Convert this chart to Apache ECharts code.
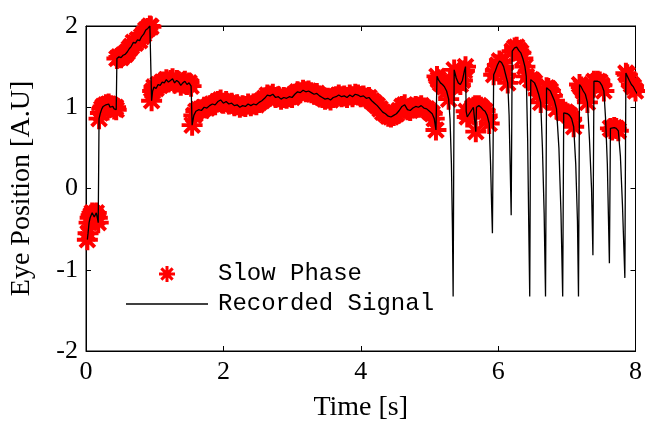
<!DOCTYPE html>
<html>
<head>
<meta charset="utf-8">
<script src="https://cdn.jsdelivr.net/npm/echarts@6/dist/echarts.min.js"></script>
<style>html,body{margin:0;padding:0;background:#fff}#c{width:645px;height:427px}</style>
</head>
<body>
<div id="c"></div>
<script>
// Recorded eye position signal: [time (s), position (A.U)]
const recordedSignal = [
  [0.02,-0.63],[0.03,-0.55],[0.045,-0.42],[0.06,-0.36],[0.075,-0.33],[0.09,-0.30],[0.105,-0.31],[0.12,-0.35],[0.135,-0.33],[0.15,-0.30],[0.165,-0.36],[0.178,-0.42],
  [0.19,0.86],[0.21,0.93],[0.23,0.98],[0.25,1.01],[0.27,1.00],[0.29,1.03],[0.31,1.02],[0.33,1.04],[0.35,1.00],[0.37,1.02],[0.39,1.01],[0.41,0.98],[0.43,1.00],[0.44,0.97],
  [0.45,1.60],[0.48,1.62],[0.51,1.61],[0.54,1.64],[0.57,1.65],[0.60,1.68],[0.63,1.72],[0.66,1.75],[0.69,1.80],[0.72,1.79],[0.75,1.83],[0.78,1.82],[0.81,1.87],[0.84,1.90],[0.87,1.95],[0.90,1.97],[0.93,2.00],[0.945,1.99],
  [0.955,1.08],[0.97,1.20],[0.99,1.25],[1.02,1.23],[1.05,1.28],[1.08,1.27],[1.11,1.31],[1.14,1.30],[1.17,1.34],[1.20,1.31],[1.23,1.33],[1.26,1.35],[1.29,1.30],[1.32,1.33],[1.35,1.31],[1.38,1.27],[1.41,1.30],[1.44,1.32],[1.47,1.28],[1.50,1.30],[1.53,1.26],
  [1.545,0.78],[1.57,0.90],[1.60,0.95],[1.64,0.97],[1.68,0.96],[1.72,1.00],[1.76,0.99],[1.80,1.02],[1.84,1.04],[1.88,1.03],[1.92,1.07],[1.96,1.09],[2.00,1.05],[2.04,1.07],[2.08,1.04],[2.12,1.05],[2.16,1.02],[2.20,1.03],[2.24,1.00],[2.28,1.02],[2.32,1.01],[2.36,1.04],[2.40,1.02],[2.44,1.04],[2.48,1.03],[2.52,1.06],[2.56,1.08],[2.60,1.11],[2.64,1.15],[2.68,1.14],[2.72,1.16],[2.76,1.12],[2.80,1.13],[2.84,1.10],[2.88,1.12],[2.92,1.11],[2.96,1.13],[3.00,1.12],[3.04,1.16],[3.08,1.19],[3.12,1.18],[3.16,1.21],[3.20,1.19],[3.24,1.20],[3.28,1.18],[3.32,1.16],[3.36,1.17],[3.40,1.14],[3.44,1.12],[3.48,1.10],[3.52,1.11],[3.56,1.09],[3.60,1.12],[3.64,1.13],[3.68,1.15],[3.72,1.13],[3.76,1.14],[3.80,1.12],[3.84,1.15],[3.88,1.13],[3.92,1.16],[3.96,1.15],[4.00,1.13],[4.04,1.14],[4.08,1.11],[4.12,1.12],[4.16,1.08],[4.20,1.05],[4.24,1.02],[4.28,0.98],[4.32,0.94],[4.36,0.92],[4.40,0.89],[4.44,0.88],[4.48,0.90],[4.52,0.92],[4.56,0.96],[4.60,1.01],[4.64,1.03],[4.68,0.97],[4.72,0.96],[4.76,0.99],[4.80,1.01],[4.84,1.00],[4.88,1.02],[4.92,0.99],[4.96,0.98],[5.00,0.95],[5.04,0.92],[5.07,0.86],[5.095,0.72],
  [5.11,1.38],[5.13,1.34],[5.16,1.30],[5.19,1.28],[5.22,1.25],[5.25,1.20],[5.28,1.10],
  [5.30,0.85],[5.32,0.30],[5.335,-0.50],[5.345,-1.33],
  [5.36,1.46],[5.39,1.36],[5.42,1.30],[5.45,1.28],[5.48,1.33],[5.51,1.45],[5.525,1.50],
  [5.535,0.95],[5.55,0.88],[5.58,0.92],[5.61,0.96],[5.64,1.00],[5.665,1.02],[5.675,0.70],[5.685,1.00],[5.72,1.02],[5.75,1.00],[5.78,0.97],[5.81,0.95],[5.84,0.90],[5.87,0.80],
  [5.89,0.30],[5.905,-0.20],[5.917,-0.55],
  [5.935,1.40],[5.96,1.45],[5.99,1.52],[6.02,1.57],[6.05,1.55],[6.08,1.50],[6.11,1.40],[6.14,1.30],
  [6.16,0.90],[6.175,0.30],[6.19,-0.33],
  [6.205,1.69],[6.24,1.73],[6.27,1.74],[6.30,1.70],[6.33,1.67],[6.36,1.60],[6.39,1.50],[6.41,1.38],
  [6.43,0.60],[6.445,-0.40],[6.46,-1.33],
  [6.475,1.34],[6.50,1.33],[6.53,1.30],[6.56,1.24],[6.59,1.16],[6.62,1.06],
  [6.645,0.50],[6.67,-0.30],[6.69,-1.33],
  [6.705,1.24],[6.73,1.23],[6.76,1.20],[6.79,1.14],[6.82,1.08],[6.85,0.98],
  [6.885,0.50],[6.915,-0.30],[6.94,-1.33],
  [6.955,0.93],[6.98,0.94],[7.01,0.92],[7.04,0.90],[7.07,0.86],[7.10,0.76],
  [7.13,0.30],[7.155,-0.40],[7.17,-1.33],
  [7.185,1.28],[7.21,1.25],[7.24,1.20],[7.27,1.16],[7.30,1.06],
  [7.33,0.60],[7.36,0.00],[7.38,-0.82],
  [7.395,1.32],[7.42,1.30],[7.45,1.32],[7.48,1.31],[7.51,1.27],[7.54,1.20],
  [7.565,0.85],[7.59,0.30],[7.62,-0.92],
  [7.635,0.74],[7.66,0.72],[7.69,0.75],[7.72,0.74],[7.75,0.71],
  [7.78,0.40],[7.81,-0.20],[7.845,-1.10],
  [7.86,1.42],[7.88,1.40],[7.91,1.33],[7.94,1.28],[7.97,1.25],[8.00,1.20],[8.03,1.16]
];

// Time intervals (s) classified as slow phase
const slowPhaseIntervals = [
  [0.0,0.18],[0.19,0.44],[0.45,0.95],[0.955,1.535],[1.545,5.10],
  [5.11,5.28],[5.36,5.525],[5.535,5.87],[5.935,6.14],[6.205,6.41],[6.475,6.62],
  [6.705,6.85],[6.955,7.10],[7.185,7.30],[7.395,7.54],[7.635,7.75],[7.86,8.03]
];

const xTicks = [0, 2, 4, 6, 8];
const yTicks = [-2, -1, 0, 1, 2];
const seriesNames = ['Slow Phase', 'Recorded Signal'];

const slowPhase = recordedSignal.filter(p => slowPhaseIntervals.some(r => p[0] >= r[0] && p[0] <= r[1]));

const star = 'path://M-8,-1.5L8,-1.5L8,1.5L-8,1.5Z M-1.5,-8L1.5,-8L1.5,8L-1.5,8Z ' +
  'M-4.6,-6.72L6.72,4.6L4.6,6.72L-6.72,-4.6Z M-6.72,4.6L4.6,-6.72L6.72,-4.6L-4.6,6.72Z';
const lineIcon = 'path://M0,0L82,0L82,1.3L0,1.3Z';

const serif = 'Liberation Serif';
const chart = echarts.init(document.getElementById('c'), null, {renderer: 'canvas'});
const axisCommon = {
  type: 'value',
  show: true,
  axisLine: {show: true, onZero: false, lineStyle: {color: '#000', width: 1}},
  axisTick: {show: true, inside: true, length: 5, lineStyle: {color: '#000'}},
  splitLine: {show: false}
};
chart.setOption({
  animation: false,
  backgroundColor: '#fff',
  grid: {left: 85, right: 8, top: 26, bottom: 76, containLabel: false,
         show: true, borderColor: '#000', borderWidth: 1, backgroundColor: 'transparent'},
  xAxis: [
    Object.assign({}, axisCommon, {
      min: xTicks[0], max: xTicks[xTicks.length - 1], interval: 2,
      name: 'Time [s]', nameLocation: 'middle', nameGap: 43,
      nameTextStyle: {fontFamily: serif, fontSize: 28, color: '#000'},
      axisLabel: {fontFamily: serif, fontSize: 26, color: '#000', margin: 8}
    }),
    Object.assign({}, axisCommon, {
      position: 'top', min: xTicks[0], max: xTicks[xTicks.length - 1], interval: 2,
      axisLabel: {show: false}
    })
  ],
  yAxis: [
    Object.assign({}, axisCommon, {
      min: yTicks[0], max: yTicks[yTicks.length - 1], interval: 1,
      name: 'Eye Position [A.U]', nameLocation: 'middle', nameGap: 50, nameRotate: 90,
      nameTextStyle: {fontFamily: serif, fontSize: 28, color: '#000'},
      axisLabel: {fontFamily: serif, fontSize: 26, color: '#000', margin: 8}
    }),
    Object.assign({}, axisCommon, {
      position: 'right', min: yTicks[0], max: yTicks[yTicks.length - 1], interval: 1,
      axisLabel: {show: false}
    })
  ],
  legend: {
    orient: 'vertical', left: 121, top: 257,
    itemWidth: 82, itemHeight: 16, itemGap: 6,
    textStyle: {fontFamily: 'Liberation Mono', fontSize: 24, color: '#000', lineHeight: 24, padding: [0, 0, 0, 5]},
    data: [
      {name: seriesNames[0], icon: star, itemStyle: {color: '#ff0000', borderWidth: 0}},
      {name: seriesNames[1], icon: lineIcon, itemStyle: {color: '#000', borderWidth: 0}}
    ]
  },
  series: [
    {
      name: seriesNames[0], type: 'scatter', data: slowPhase,
      symbol: star, symbolSize: 21, z: 2,
      itemStyle: {color: '#ff0000', opacity: 1}
    },
    {
      name: seriesNames[1], type: 'line', data: recordedSignal,
      showSymbol: false, symbol: 'none', z: 3,
      itemStyle: {color: '#000'},
      lineStyle: {color: '#000', width: 1.3}
    },
    {
      name: 'frame', type: 'line', xAxisIndex: 1, yAxisIndex: 1, data: [],
      showSymbol: false, silent: true
    }
  ]
});
</script>
</body>
</html>
